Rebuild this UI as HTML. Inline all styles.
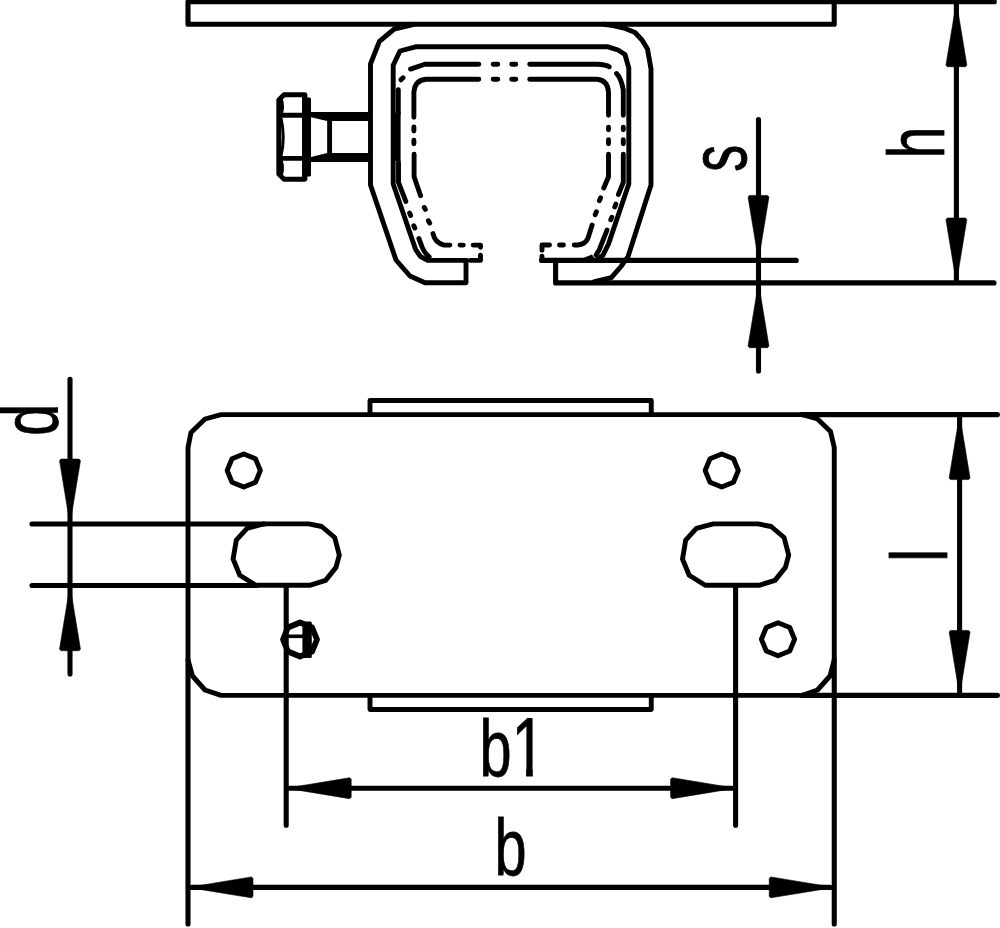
<!DOCTYPE html>
<html lang="en">
<head>
<meta charset="utf-8">
<title>Clamp bracket dimension drawing</title>
<style>
html,body{margin:0;padding:0;background:#fff;}
body{width:1000px;height:928px;overflow:hidden;}
svg{display:block;}
.l{fill:none;stroke:#000;stroke-width:4.9;stroke-linecap:round;stroke-linejoin:round;}
.p{fill:none;stroke:#000;stroke-width:4.9;stroke-linecap:round;stroke-linejoin:round;}
.d{fill:none;stroke:#000;stroke-width:5.1;stroke-linecap:round;stroke-linejoin:round;}
.ar{fill:#000;stroke:#000;stroke-width:0.6;stroke-linejoin:round;}
.t{font-family:"Liberation Sans",Arial,Helvetica,sans-serif;font-size:79px;fill:#000;stroke:#000;stroke-width:0.8;stroke-linejoin:round;}
</style>
</head>
<body>
<svg width="1000" height="928" viewBox="0 0 1000 928">
<rect x="0" y="0" width="1000" height="928" fill="#fff"/>
<!-- top plate -->
<path class="d" d="M994.3,1.75 H188 V24.3 H834.2 V1.75"/>
<!-- outer clamp -->
<path class="l" d="M466,260.4 L466,282.7 L425,282.7 L410,276 L396,260 L370.5,185 L370.5,64 L379.4,41.3 L394.3,29 L414,24.3"/>
<path class="l" d="M604,24.3 L613,25.5 L624,28 L635,32.5 L642,40 L647.5,49 L651,69 L651,185 L628,256.7 L621,266.5 L611.3,277.7 L594.4,281.6"/>
<polygon points="590,283 612,276 606,284" fill="#000"/>
<path class="l" d="M466,260.4 L427.6,260.4 L420.6,256.7 L415.7,249.7 L393.2,184 L393.2,65.3 L400,51 L415.6,46.8 L608,46.8 L618,50 L625,54.5 L628.8,68 L628.8,184 L608.5,244 L602.9,255.3 L596,260.4"/>
<path class="d" d="M541.5,260.4 H796.2"/>
<path class="d" d="M555.6,260.4 V282.9 H994"/>
<polygon points="578,260 592,254.5 596,261" fill="#000"/>
<!-- phantom rail outer -->
<path class="p" d="M478.80,64.20 L424.70,64.20 L410.58,69.08 M403.04,77.76 L400.96,79.84 M398.30,89.80 L398.30,113.80 M493.20,64.20 L497.80,64.20 M511.70,64.20 L515.80,64.20"/>
<path class="p" d="M529.70,64.20 L597.00,64.20 Q606.00,64.50 609.20,66.74 M616.56,73.56 Q621.00,78.00 623.30,90.00 L623.30,115.30 M623.30,127.20 L623.30,129.84 M623.30,139.70 L623.30,143.80 M623.30,154.20 L623.30,182.40 L618.43,194.36 M615.83,204.06 L614.77,206.94 M611.81,217.31 L610.76,219.67 M607.00,230.05 L599.30,249.70 L596.12,255.10"/>
<path class="p" d="M398.50,162.20 L398.50,182.40 L405.81,201.35 M409.59,213.11 L410.64,215.47 M413.79,225.71 L414.84,228.07 M418.87,238.46 L422.00,246.90 Q425.00,254.00 429.17,256.78"/>
<rect x="391" y="112.8" width="9.6" height="48.2" fill="#000"/>
<!-- phantom rail inner -->
<path class="p" d="M493.20,79.20 L497.80,79.20 M511.70,79.20 L515.80,79.20 M478.80,79.20 L426.00,79.20 Q415.00,80.00 413.90,92.00 L413.90,117.30 M413.90,126.90 L413.90,131.10 M413.90,140.20 L413.90,143.80 M414.10,154.20 L414.10,176.80 L420.59,195.72 M424.24,207.44 L425.32,209.45 M428.42,220.75 L429.68,223.15 M432.96,233.55 Q435.00,243.00 444.00,245.10 L449.90,245.10 M460.00,245.10 L463.30,245.10 M473.20,245.10 L480.50,245.10 L480.50,247.25 M480.50,255.20 L480.50,260.40 L470.20,260.40"/>
<path class="p" d="M529.70,79.20 L597.00,79.20 Q607.50,80.00 608.50,92.00 L608.50,115.30 M608.50,127.20 L608.50,129.84 M608.50,139.70 L608.50,143.80 M608.50,154.20 L608.50,176.80 L603.75,188.07 M600.58,197.74 L599.42,200.66 M596.38,211.74 L595.22,214.66 M592.13,225.10 L588.10,237.80 Q586.00,244.00 578.00,245.00 L574.20,245.00 M563.50,245.00 L559.50,245.00 M549.50,245.00 L542.00,245.00 L542.00,250.30 M542.00,256.20 L542.00,258.51"/>
<!-- bolt side -->
<path class="l" d="M304.8,94.7 H284 L278.8,100 V174 L284,179.2 H304.8"/>
<path class="l" d="M281,115.3 H304 M281,158.4 H304"/>
<rect x="302" y="94.5" width="5.4" height="85" fill="#000"/>
<rect x="305" y="97.5" width="6" height="79" rx="1.5" fill="#000"/>
<path d="M281,98 Q284,107 281,115 M281,118 Q285.5,137 281,156 M281,160 Q284,168 281,176" fill="none" stroke="#000" stroke-width="3"/>
<polygon points="310,112 368.5,112 368.5,121 327.2,121 310,117" fill="#000"/>
<polygon points="310,162 368.5,162 368.5,153.1 327.2,153.1 310,157.2" fill="#000"/>
<path class="l" d="M329.6,119 V155"/>
<!-- dim s -->
<path class="d" d="M758.5,119.5 V371"/>
<polygon class="ar" points="758.50,260.40 768.94,197.00 767.60,195.40 749.40,195.40 748.06,197.00"/>
<polygon class="ar" points="758.50,282.70 748.06,346.10 749.40,347.70 767.60,347.70 768.94,346.10"/>
<text class="t" transform="translate(746,171.8) rotate(-90) scale(0.68,1)">s</text>
<!-- dim h -->
<path class="d" d="M956.4,3 V281"/>
<polygon class="ar" points="956.40,1.75 945.96,65.15 947.30,66.75 965.50,66.75 966.84,65.15"/>
<polygon class="ar" points="956.40,283.00 966.84,219.60 965.50,218.00 947.30,218.00 945.96,219.60"/>
<text class="t" transform="translate(944.4,158.5) rotate(-90) scale(0.73,1)">h</text>
<!-- plate -->
<polygon class="l" points="188,447.5 191,432.5 205,419 221,414.6 802.5,414.6 817.5,419 830.5,431.5 834.25,447.5 834.25,660 830,676 817.5,690 802.5,695.4 221,695.4 205,690 192.5,676 188,660"/>
<path class="l" d="M370,414.6 V400.5 H651.25 V414.6"/>
<path class="l" d="M370,695.4 V709.5 H651.25 V695.4"/>
<path class="d" d="M802,414.6 H997.5 M802,695.4 H997.5"/>
<polygon class="l" points="243.75,453.90 232.01,458.76 227.15,470.50 232.01,482.24 243.75,487.10 255.49,482.24 260.35,470.50 255.49,458.76"/>
<polygon class="l" points="721.75,453.90 710.01,458.76 705.15,470.50 710.01,482.24 721.75,487.10 733.49,482.24 738.35,470.50 733.49,458.76"/>
<polygon class="l" points="778.00,622.65 766.26,627.51 761.40,639.25 766.26,650.99 778.00,655.85 789.74,650.99 794.60,639.25 789.74,627.51"/>
<polygon class="l" style="stroke-width:5.8" points="300.00,622.50 287.98,627.48 283.00,639.50 287.98,651.52 300.00,656.50 312.02,651.52 317.00,639.50 312.02,627.48"/>
<rect x="302.4" y="621.5" width="9.4" height="36.5" rx="1.5" fill="#000"/>
<path d="M287,636.3 H304" stroke="#000" stroke-width="3.6" fill="none"/>
<polygon class="l" points="263.90,523.90 247.00,528.40 236.30,540.10 233.10,559.00 239.80,575.20 255.80,585.30 309.70,585.30 325.60,580.40 336.00,567.40 339.30,555.10 334.70,537.50 321.70,526.50 308.70,523.90"/>
<polygon class="l" points="713.30,523.90 696.40,528.40 685.70,540.10 682.50,559.00 689.20,575.20 705.20,585.30 759.10,585.30 775.00,580.40 785.40,567.40 788.70,555.10 784.10,537.50 771.10,526.50 758.10,523.90"/>
<path class="d" d="M32,524 H264 M32,585.5 H256"/>
<path class="d" d="M70,379.3 V674"/>
<polygon class="ar" points="70.00,524.10 80.44,460.70 79.10,459.10 60.90,459.10 59.56,460.70"/>
<polygon class="ar" points="70.00,585.70 59.56,649.10 60.90,650.70 79.10,650.70 80.44,649.10"/>
<text class="t" transform="translate(57.7,436) rotate(-90) scale(0.73,1)">d</text>
<path class="d" d="M959.6,417 V693"/>
<polygon class="ar" points="959.60,414.60 949.16,478.00 950.50,479.60 968.70,479.60 970.04,478.00"/>
<polygon class="ar" points="959.60,695.40 970.04,632.00 968.70,630.40 950.50,630.40 949.16,632.00"/>
<text class="t" transform="translate(947,561.8) rotate(-90) scale(0.73,1)">l</text>
<path class="d" d="M286.2,585.7 V825.3 M735.6,585.7 V825.3"/>
<path class="d" d="M290,788.2 H732"/>
<polygon class="ar" points="286.20,788.20 349.60,798.64 351.20,797.30 351.20,779.10 349.60,777.76"/>
<polygon class="ar" points="735.60,788.20 672.20,777.76 670.60,779.10 670.60,797.30 672.20,798.64"/>
<clipPath id="c1"><rect x="470" y="700" width="42" height="90"/><rect x="512" y="700" width="40" height="66.5"/><rect x="526.1" y="766" width="6.7" height="24"/></clipPath>
<g clip-path="url(#c1)"><text class="t" transform="translate(479.4,776) scale(0.73,1)" style="letter-spacing:0px">b<tspan font-size="83.4">1</tspan></text></g>
<path class="d" d="M188,660 V924 M834.25,660 V924"/>
<path class="d" d="M192,887.4 H830"/>
<polygon class="ar" points="188.00,887.40 251.40,897.84 253.00,896.50 253.00,878.30 251.40,876.96"/>
<polygon class="ar" points="834.25,887.40 770.85,876.96 769.25,878.30 769.25,896.50 770.85,897.84"/>
<text class="t" transform="translate(494.6,874.6) scale(0.73,1)">b</text>
</svg>
</body>
</html>
